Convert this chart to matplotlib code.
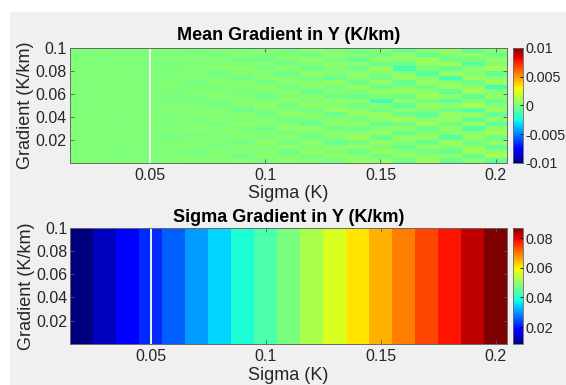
import numpy as np
import matplotlib
matplotlib.use("Agg")
import matplotlib.pyplot as plt
from matplotlib.patches import Rectangle

plt.rcParams['font.family'] = ['Liberation Sans', 'DejaVu Sans']

# sigma columns (K) and gradient range (K/km)
sigma = [0.02, 0.03, 0.04, 0.05, 0.06, 0.07, 0.08, 0.09, 0.10, 0.11,
         0.12, 0.13, 0.14, 0.15, 0.16, 0.17, 0.18, 0.19, 0.20]
grad_range = [0.0, 0.1]
gap_sigma = 0.05

xticks = [0.05, 0.1, 0.15, 0.2]
xticklabels = ['0.05', '0.1', '0.15', '0.2']
yticks = [0.02, 0.04, 0.06, 0.08, 0.1]
yticklabels = ['0.02', '0.04', '0.06', '0.08', '0.1']

# mean gradient, units of 1e-4 K/km, rows listed from gradient 0.1 (top) down
mean_grad_e4 = [
    [1, 1, 0, 1, 1, -1, 2, 0, 2, -2, 3, 1, -2, 3, -5, 2, 5, -6, 2],
    [0, 1, 1, 0, 0, 2, -1, 3, 1, 3, -2, 4, 2, -3, 6, -7, 3, 7, -4],
    [1, 0, 1, 1, 2, 1, 2, -2, -3, 1, 4, -1, -4, 5, 2, 8, -3, -2, 6],
    [1, 1, 0, 0, -1, 2, 1, 1, 3, -2, 2, 5, 3, -5, -2, 4, 9, -8, 1],
    [0, 1, 1, 1, 1, 0, 3, 4, -1, 4, -3, 2, -2, 7, -14, 1, -5, 4, 10],
    [1, 0, 1, 0, 1, 2, -2, 1, 2, -4, 5, 1, 4, 2, 3, -9, 6, 2, -7],
    [1, 1, 0, 1, 0, 1, 1, -2, 3, 2, -1, -4, 3, -2, 6, 3, -12, 7, 3],
    [0, 1, 1, 1, 2, -1, 3, 2, -2, 3, 2, 5, -3, 4, -5, 6, 2, -3, 8],
    [1, 1, 1, 0, 0, 2, 0, 3, 4, -3, 4, -2, 6, -4, 1, -3, 9, 5, -15],
    [1, 0, 0, 1, 1, 1, 2, -1, 1, 3, -4, 3, 1, 5, 7, 4, -6, 9, 3],
    [0, 1, 1, 1, -1, 1, 3, 2, -3, 1, 3, -3, -5, 2, -4, 8, 4, -7, 5],
    [1, 1, 0, 0, 1, -2, 0, 3, 2, 4, 1, 4, 4, -16, 5, -2, -8, 3, -4],
    [1, 0, 1, 1, 1, 2, -1, 1, 4, -2, 5, 2, -2, 3, -7, 6, 6, 10, 2],
    [0, 1, 1, 0, 2, 1, 2, -3, 1, 2, -2, 6, 3, -3, 3, 1, -4, -9, 7],
    [1, 1, 1, 1, 0, 2, 1, 2, -2, 5, 3, -3, 5, 7, -3, -7, 5, 4, -5],
    [1, 0, 0, 1, 1, 0, 3, 1, 3, -3, 1, 2, -1, 4, 8, 3, 7, -5, 4],
    [0, 1, 1, 1, 0, 1, -1, 4, 2, 2, -5, 4, 6, -5, -2, 9, -3, 6, -8],
    [1, 1, 0, 0, 2, 3, 2, 0, -3, 4, 4, -2, -3, 3, 4, -4, 5, -10, 6],
    [1, 0, 1, 1, 1, -1, 3, 2, 3, -1, 2, 5, 2, 6, -6, 2, 3, 3, 9],
    [0, 1, 1, 0, -1, 2, 0, 2, 1, 3, -3, 1, 8, -4, 6, 5, -9, 7, -3],
    [1, 1, 1, 1, 1, 1, 2, -2, 4, -2, 4, -4, -2, 5, 2, -5, 7, -2, 5],
    [1, 0, 0, 1, 1, 2, -1, 3, 0, 4, 1, 3, 6, 1, -4, 7, 2, 5, -7],
    [0, 1, 1, 1, 0, -1, 3, 1, 2, -3, 5, 2, -4, 7, 3, -2, -6, 8, 4],
    [1, 1, 0, 0, 2, 1, 1, -2, 4, 1, -2, 5, 3, -3, 5, 4, 4, -4, 10],
    [1, 0, 1, 1, 1, 2, 2, 3, -1, 3, 2, -1, 5, 4, -3, 6, -4, 2, -6],
]
mean_clim = [-0.01, 0.01]
mean_cticks = [-0.01, -0.005, 0, 0.005, 0.01]
mean_cticklabels = ['-0.01', '-0.005', '0', '0.005', '0.01']

# sigma gradient per sigma column (K/km)
sigma_grad = [0.0087, 0.0130, 0.0174, 0.0217, 0.0260, 0.0304, 0.0347, 0.0391,
              0.0434, 0.0477, 0.0521, 0.0564, 0.0608, 0.0651, 0.0694, 0.0738,
              0.0781, 0.0825, 0.0868]
sigma_rows = 25
sigma_cticks = [0.02, 0.04, 0.06, 0.08]
sigma_cticklabels = ['0.02', '0.04', '0.06', '0.08']

fig = plt.figure(figsize=(5.66, 3.85), dpi=100, facecolor='white')
fig.add_artist(Rectangle((10 / 566, 0), 1, 1 - 12 / 385, transform=fig.transFigure,
                         facecolor='#f0f0f0', edgecolor='none', zorder=-10))

step = sigma[1] - sigma[0]
extent = [sigma[0] - step / 2, sigma[-1] + step / 2, grad_range[0], grad_range[1]]

mean_img = np.array(mean_grad_e4) * 1e-4
sigma_img = np.tile(np.array(sigma_grad), (sigma_rows, 1))

panels = [
    (0.123, 0.577, 0.2987, mean_img, mean_clim, mean_cticks, mean_cticklabels,
     'Mean Gradient in Y (K/km)', 5.5, 1.5),
    (0.124, 0.107, 0.301, sigma_img, [min(sigma_grad), max(sigma_grad)],
     sigma_cticks, sigma_cticklabels, 'Sigma Gradient in Y (K/km)', 4, 2.5),
]

for left, bottom, height, img, clim, cticks, ctlabels, title, tpad, xpad in panels:
    ax = fig.add_axes([left, bottom, 0.896 - left, height])
    im = ax.imshow(img, cmap='jet', vmin=clim[0], vmax=clim[1], extent=extent,
                   origin='upper', aspect='auto', interpolation='nearest')
    ax.axvline(gap_sigma, color='white', lw=1.3)
    ax.set_xlim(extent[0], extent[1])
    ax.set_ylim(grad_range[0], grad_range[1])
    ax.set_xticks(xticks)
    ax.set_xticklabels(xticklabels)
    ax.set_yticks(yticks)
    ax.set_yticklabels(yticklabels)
    ax.tick_params(direction='in', length=3, width=0.6, color='#555555',
                   labelsize=11.5, labelcolor='#262626', top=True, right=True, pad=2)
    ax.tick_params(axis='x', pad=3.5)
    for s in ax.spines.values():
        s.set_color('#6a6a6a')
        s.set_linewidth(0.7)
    ax.set_xlabel('Sigma (K)', fontsize=13, color='#262626', labelpad=xpad)
    ax.set_ylabel('Gradient (K/km)', fontsize=13, color='#262626', labelpad=1)
    ax.set_title(title, fontsize=13, fontweight='bold', pad=tpad)

    cax = fig.add_axes([0.906, bottom, 0.0186, height])
    cb = fig.colorbar(im, cax=cax, ticks=cticks)
    cb.ax.set_yticklabels(ctlabels)
    cb.ax.tick_params(direction='in', length=2, width=0.6, labelsize=10.3,
                      labelcolor='#262626', pad=1.5)
    cb.outline.set_linewidth(0.6)
    cb.outline.set_edgecolor('#6a6a6a')

fig.savefig('out.png', dpi=100, facecolor=fig.get_facecolor())
